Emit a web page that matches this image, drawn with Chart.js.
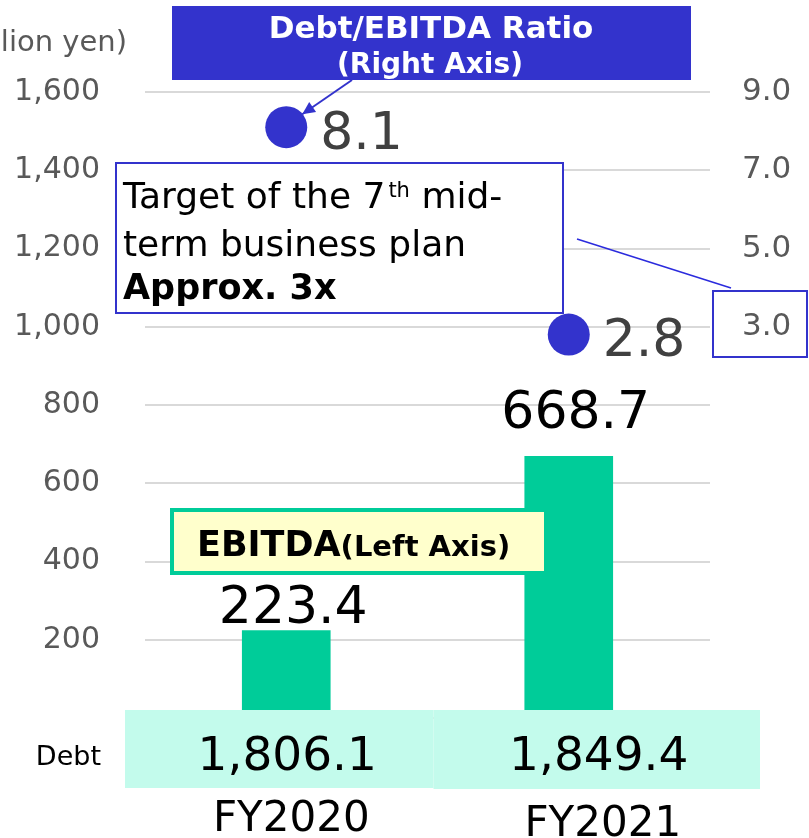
<!DOCTYPE html>
<html>
<head>
<meta charset="utf-8">
<script src="https://cdn.jsdelivr.net/npm/chart.js@4"></script>
<style>
  html, body { margin: 0; padding: 0; background: #fff; }
  #wrap { width: 809px; height: 838px; }
</style>
</head>
<body>
<div id="wrap"><canvas id="debt-ebitda"></canvas></div>
<script>
// values (million yen, ratio in x)
var years = ['FY2020', 'FY2021'];
var ebitda = [223.4, 668.7];
var debt = [1806.1, 1849.4];
var ratio = [8.1, 2.8];
var leftTicks = [200, 400, 600, 800, 1000, 1200, 1400, 1600];
var rightTicks = [3, 5, 7, 9];

var FONT = '"DejaVu Sans", Verdana, sans-serif';
var BLUE = '#3333cc';
var GREEN = '#00cc99';

function fmt(v, d) {
  return v.toLocaleString('en-US', {minimumFractionDigits: d, maximumFractionDigits: d});
}

// bar label lift above the bar top (the slide puts them a bit unevenly)
var barLabelLift = [21, 42];

var overlay = {
  id: 'overlay',
  afterDatasetsDraw: function(chart) {
    var ctx = chart.ctx, area = chart.chartArea;
    var bars = chart.getDatasetMeta(0).data;
    var dots = chart.getDatasetMeta(1).data;
    ctx.save();

    // value labels on bars
    ctx.fillStyle = '#000';
    ctx.font = '52px ' + FONT;
    ctx.textAlign = 'center';
    ctx.textBaseline = 'middle';
    bars.forEach(function(b, i) {
      ctx.fillText(fmt(ebitda[i], 1), b.x + 7, b.y - barLabelLift[i]);
    });

    // ratio labels next to dots
    ctx.fillStyle = '#404040';
    ctx.textAlign = 'left';
    dots.forEach(function(p, i) {
      ctx.fillText(fmt(ratio[i], 1), p.x + 34, p.y + 8);
    });

    // debt band
    var bandL = area.left - 20, bandR = area.right + 50;
    var mid = (area.left + area.right) / 2 + 6;
    ctx.fillStyle = '#c3fbec';
    ctx.fillRect(bandL, area.bottom - 8, mid - bandL, 78);
    ctx.fillRect(mid, area.bottom - 8, bandR - mid, 79);
    var cells = [(bandL + mid) / 2 + 8, (mid + bandR) / 2 + 2];
    ctx.fillStyle = '#000';
    ctx.font = '47px ' + FONT;
    ctx.textAlign = 'center';
    debt.forEach(function(v, i) {
      ctx.fillText(fmt(v, 1), cells[i], area.bottom + 40);
    });
    ctx.font = '27px ' + FONT;
    ctx.textAlign = 'right';
    ctx.fillText('Debt', 101, area.bottom + 40);

    // category labels under the band
    ctx.font = '42px ' + FONT;
    ctx.textAlign = 'center';
    years.forEach(function(y, i) {
      ctx.fillText(y, cells[i] + 4, area.bottom + 102 + i * 5);
    });

    // unit
    ctx.fillStyle = '#595959';
    ctx.font = '29px ' + FONT;
    ctx.textAlign = 'right';
    ctx.fillText('(Million yen)', 127, 43);

    // title box for the ratio series
    ctx.fillStyle = BLUE;
    ctx.fillRect(172, 6, 519, 74);
    ctx.fillStyle = '#fff';
    ctx.textAlign = 'center';
    ctx.textBaseline = 'alphabetic';
    ctx.font = 'bold 31px ' + FONT;
    ctx.fillText('Debt/EBITDA Ratio', 431, 38);
    ctx.font = 'bold 28px ' + FONT;
    ctx.fillText('(Right Axis)', 430, 73);

    // arrow from title to first dot
    var tip = {x: dots[0].x + 16, y: dots[0].y - 13};
    ctx.strokeStyle = BLUE;
    ctx.fillStyle = BLUE;
    ctx.lineWidth = 2;
    ctx.beginPath();
    ctx.moveTo(352, 80);
    ctx.lineTo(tip.x, tip.y);
    ctx.stroke();
    var ang = Math.atan2(tip.y - 80, tip.x - 352);
    ctx.beginPath();
    ctx.moveTo(tip.x, tip.y);
    ctx.lineTo(tip.x - 14 * Math.cos(ang - 0.45), tip.y - 14 * Math.sin(ang - 0.45));
    ctx.lineTo(tip.x - 14 * Math.cos(ang + 0.45), tip.y - 14 * Math.sin(ang + 0.45));
    ctx.closePath();
    ctx.fill();

    // target callout
    ctx.fillStyle = '#fff';
    ctx.fillRect(116, 163, 447, 150);
    ctx.strokeStyle = BLUE;
    ctx.lineWidth = 2;
    ctx.strokeRect(116, 163, 447, 150);
    ctx.fillStyle = '#000';
    ctx.textAlign = 'left';
    ctx.font = '36px ' + FONT;
    var x0 = 123;
    var s1 = 'Target of the 7';
    ctx.fillText(s1, x0, 208);
    var w1 = ctx.measureText(s1).width;
    ctx.font = '21px ' + FONT;
    ctx.fillText('th', x0 + w1 + 3, 197);
    var w2 = ctx.measureText('th').width;
    ctx.font = '36px ' + FONT;
    ctx.fillText(' mid-', x0 + w1 + w2 + 3, 208);
    ctx.fillText('term business plan', x0, 256);
    ctx.font = 'bold 35px ' + FONT;
    ctx.fillText('Approx. 3x', x0, 299);

    // connector to the 3.0 tick
    ctx.strokeStyle = '#2b2bdd';
    ctx.lineWidth = 1.5;
    ctx.beginPath();
    ctx.moveTo(577, 239);
    ctx.lineTo(731, 288);
    ctx.stroke();
    ctx.strokeStyle = BLUE;
    ctx.lineWidth = 2;
    ctx.strokeRect(713, 291, 94, 66);

    // EBITDA label
    ctx.fillStyle = '#ffffcc';
    ctx.fillRect(170, 508, 378, 67);
    ctx.strokeStyle = GREEN;
    ctx.lineWidth = 4;
    ctx.strokeRect(172, 510, 374, 63);
    ctx.fillStyle = '#000';
    ctx.font = 'bold 35px ' + FONT;
    ctx.fillText('EBITDA', 197, 556);
    var we = ctx.measureText('EBITDA').width;
    ctx.font = 'bold 29px ' + FONT;
    ctx.fillText('(Left Axis)', 197 + we, 556);

    ctx.restore();
  }
};

new Chart(document.getElementById('debt-ebitda'), {
  data: {
    labels: years,
    datasets: [
      {
        type: 'bar',
        data: ebitda,
        yAxisID: 'y',
        backgroundColor: GREEN,
        barThickness: 88,
        order: 2
      },
      {
        type: 'line',
        data: ratio,
        yAxisID: 'y1',
        showLine: false,
        pointRadius: 21,
        pointHoverRadius: 21,
        pointBackgroundColor: BLUE,
        pointBorderWidth: 0,
        order: 1
      }
    ]
  },
  plugins: [overlay],
  options: {
    responsive: true,
    maintainAspectRatio: false,
    animation: false,
    layout: {padding: {top: 92, bottom: 120, left: 0, right: 0}},
    plugins: {legend: {display: false}, tooltip: {enabled: false}},
    scales: {
      x: {display: false, offset: true},
      y: {
        position: 'left',
        min: 0,
        max: 1600,
        afterFit: function(s) { s.width = 145; },
        afterBuildTicks: function(s) {
          s.ticks = [0].concat(leftTicks).map(function(v) { return {value: v}; });
        },
        ticks: {
          color: '#595959',
          font: {family: FONT, size: 30},
          padding: 45,
          callback: function(v) { return v === 0 ? '' : fmt(v, 0); }
        },
        grid: {color: '#d9d9d9', lineWidth: 2, drawTicks: false},
        border: {display: false}
      },
      y1: {
        position: 'right',
        min: -7,
        max: 9,
        afterFit: function(s) { s.width = 99; },
        afterBuildTicks: function(s) {
          s.ticks = rightTicks.map(function(v) { return {value: v}; });
        },
        ticks: {
          color: '#595959',
          font: {family: FONT, size: 31},
          padding: 32,
          callback: function(v) { return fmt(v, 1); }
        },
        grid: {drawOnChartArea: false, drawTicks: false},
        border: {display: false}
      }
    }
  }
});
</script>
</body>
</html>
